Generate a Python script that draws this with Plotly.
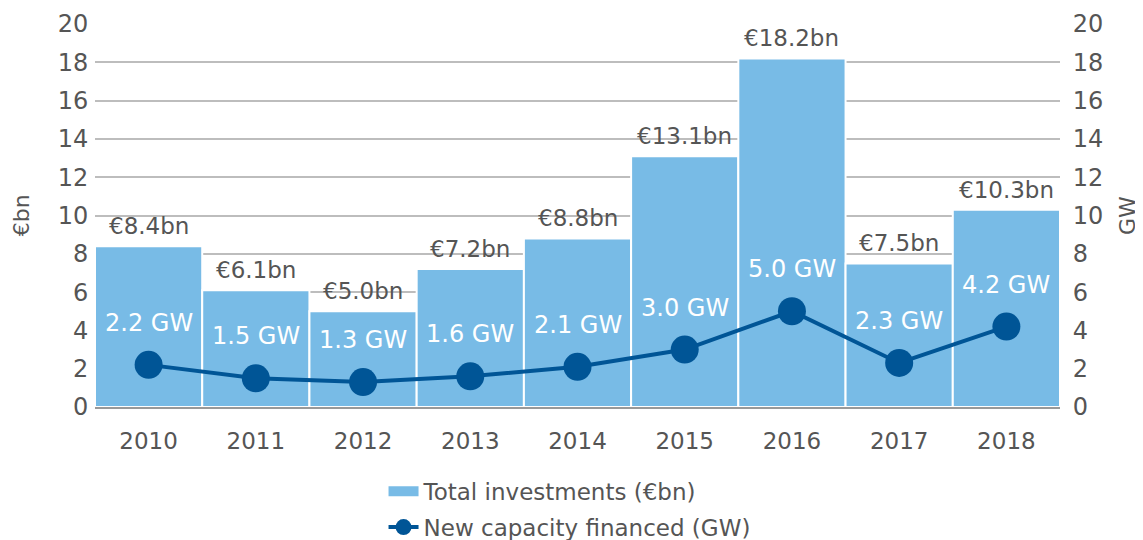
import plotly.graph_objects as go

# chart data
years = ["2010", "2011", "2012", "2013", "2014", "2015", "2016", "2017", "2018"]
investments = [8.4, 6.1, 5.0, 7.2, 8.8, 13.1, 18.2, 7.5, 10.3]
capacity = [2.2, 1.5, 1.3, 1.6, 2.1, 3.0, 5.0, 2.3, 4.2]
inv_labels = ["€8.4bn", "€6.1bn", "€5.0bn", "€7.2bn", "€8.8bn", "€13.1bn", "€18.2bn", "€7.5bn", "€10.3bn"]
cap_labels = ["2.2 GW", "1.5 GW", "1.3 GW", "1.6 GW", "2.1 GW", "3.0 GW", "5.0 GW", "2.3 GW", "4.2 GW"]

FONT = "DejaVu Sans"
GREY = "#555555"
BAR_BLUE = "#78bbe6"
LINE_BLUE = "#005596"

# bars sit on plain numeric slots, years go in as tick text
xpos = list(range(len(years)))

fig = go.Figure()

fig.add_trace(go.Bar(
    x=xpos, y=investments, name="Total investments (€bn)",
    width=1.0,
    marker=dict(color=BAR_BLUE, line=dict(color="white", width=2)),
    showlegend=False,
))

# legend stand-in for the bars (wide flat swatch like the reference)
fig.add_trace(go.Scatter(
    x=[None], y=[None], name="Total investments (€bn)", mode="lines",
    line=dict(color=BAR_BLUE, width=14), legendgroup="a",
))

fig.add_trace(go.Scatter(
    x=xpos, y=capacity, name="New capacity financed (GW)",
    mode="lines+markers",
    line=dict(color=LINE_BLUE, width=4),
    marker=dict(color=LINE_BLUE, size=28),
    yaxis="y2", legendgroup="b",
))

# value labels
for i, (v, t) in enumerate(zip(investments, inv_labels)):
    fig.add_annotation(x=i, y=v, text=t, showarrow=False, yanchor="bottom",
                       yshift=5, xref="x", yref="y",
                       font=dict(family=FONT, size=23, color=GREY))
for i, (v, t) in enumerate(zip(capacity, cap_labels)):
    fig.add_annotation(x=i, y=v, text=t, showarrow=False, yanchor="middle",
                       yshift=42, xref="x", yref="y2",
                       font=dict(family=FONT, size=24, color="white"))

# axis titles
fig.add_annotation(x=-0.076, y=0.5, xref="paper", yref="paper", text="€bn",
                   xanchor="center", textangle=-90, showarrow=False,
                   font=dict(family=FONT, size=22, color=GREY))
fig.add_annotation(x=1.07, y=0.5, xref="paper", yref="paper", text="GW",
                   xanchor="center", textangle=-90, showarrow=False,
                   font=dict(family=FONT, size=22, color=GREY))

# page body adds 8px offset, margins compensate
fig.update_layout(
    width=1143, height=540,
    margin=dict(l=87, r=91, t=16, b=141, autoexpand=False),
    plot_bgcolor="white", paper_bgcolor="white",
    font=dict(family=FONT, size=23, color=GREY),
    showlegend=True,
    legend=dict(x=0.299, y=0.145, yref="container", xanchor="left", yanchor="top",
                orientation="v", traceorder="grouped", tracegroupgap=3,
                font=dict(family=FONT, size=23, color=GREY)),
    xaxis=dict(range=[-0.5, len(years) - 0.5], tickvals=xpos, ticktext=years,
               showgrid=False, showline=True, zeroline=False, automargin=False,
               linecolor="#999999", linewidth=2,
               ticks="outside", ticklen=12, tickcolor="rgba(0,0,0,0)",
               tickfont=dict(size=23, color=GREY)),
    yaxis=dict(range=[0, 20], dtick=2, showgrid=True, gridcolor="#bdbdbd",
               gridwidth=1.5, zeroline=False, automargin=False,
               ticks="outside", ticklen=1,
               tickcolor="rgba(0,0,0,0)", tickfont=dict(size=24, color=GREY)),
    yaxis2=dict(range=[0, 20], dtick=2, overlaying="y", side="right",
                showgrid=False, zeroline=False, automargin=False,
                ticks="outside", ticklen=7,
                tickcolor="rgba(0,0,0,0)", tickfont=dict(size=24, color=GREY)),
)

fig.write_html("out.html")
